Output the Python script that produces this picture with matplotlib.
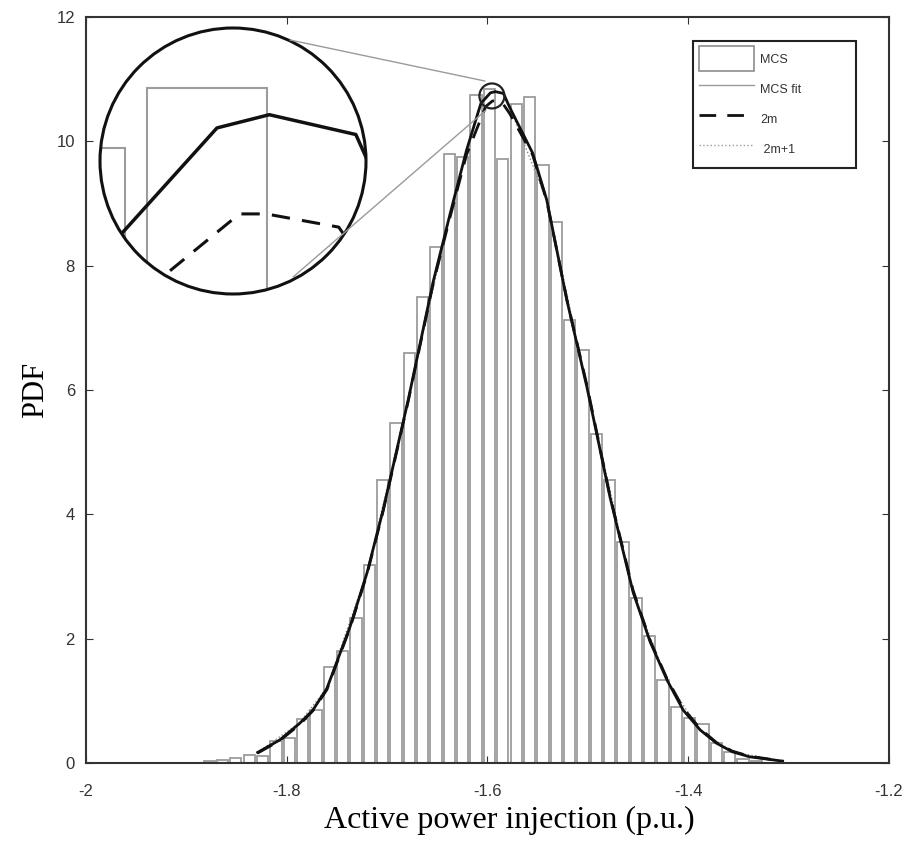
import matplotlib
matplotlib.use('Agg')
import matplotlib.pyplot as plt
from matplotlib.patches import Circle, Ellipse, ConnectionPatch, Patch
from matplotlib.lines import Line2D
import numpy as np

plt.rcParams['axes.unicode_minus'] = False

# MCS histogram (42 bins)
bin_start = -1.8850
bin_width = 0.0133
mcs_pdf = [0.03, 0.05, 0.08, 0.13, 0.12, 0.35, 0.40, 0.70, 0.85, 1.55,
           1.80, 2.33, 3.18, 4.55, 5.47, 6.60, 7.50, 8.30, 9.80, 9.75,
           10.75, 10.84, 9.72, 10.60, 10.72, 9.62, 8.70, 7.12, 6.65, 5.30,
           4.55, 3.55, 2.65, 2.04, 1.33, 0.90, 0.72, 0.62, 0.32, 0.18,
           0.06, 0.04]

# MCS fit curve
x_fit = [-1.829, -1.807, -1.787, -1.774, -1.760, -1.737, -1.720, -1.704,
         -1.679, -1.654, -1.637, -1.621, -1.6066, -1.5971, -1.5922, -1.5841,
         -1.578, -1.555, -1.541, -1.521, -1.501, -1.478, -1.455, -1.438,
         -1.421, -1.405, -1.388, -1.372, -1.356, -1.339, -1.306]
y_fit = [0.17, 0.37, 0.64, 0.85, 1.20, 2.19, 3.06, 4.07,
         5.84, 7.75, 8.85, 9.85, 10.61, 10.78, 10.80, 10.77,
         10.55, 9.81, 9.06, 7.45, 6.05, 4.28, 2.75, 1.95,
         1.33, 0.85, 0.53, 0.32, 0.18, 0.10, 0.03]

# 2m approximation
x_2m = [-1.829, -1.807, -1.787, -1.774, -1.760, -1.737, -1.720, -1.704,
        -1.679, -1.654, -1.637, -1.621, -1.6018, -1.5950, -1.5925, -1.5857,
        -1.578, -1.555, -1.541, -1.521, -1.501, -1.478, -1.455, -1.438,
        -1.421, -1.405, -1.388, -1.372, -1.356, -1.339, -1.306]
y_2m = [0.16, 0.36, 0.62, 0.84, 1.18, 2.17, 3.04, 4.05,
        5.82, 7.72, 8.80, 9.78, 10.56, 10.65, 10.65, 10.63,
        10.45, 9.78, 9.04, 7.46, 6.08, 4.30, 2.78, 1.97,
        1.35, 0.88, 0.55, 0.33, 0.19, 0.11, 0.03]

# 2m+1 approximation (lies on the fit almost everywhere)
x_2m1 = [-1.829, -1.787, -1.760, -1.720, -1.679, -1.637, -1.621, -1.6066,
         -1.5971, -1.5922, -1.5841, -1.578, -1.541, -1.501, -1.455, -1.421,
         -1.388, -1.356, -1.306]
y_2m1 = [0.17, 0.65, 1.21, 3.07, 5.85, 8.86, 9.85, 10.61,
         10.78, 10.80, 10.77, 10.55, 9.05, 6.04, 2.74, 1.32,
         0.52, 0.18, 0.03]

bin_left = bin_start + bin_width * np.arange(len(mcs_pdf))
gap = 0.155 * bin_width

fig = plt.figure(figsize=(9.2, 8.5), dpi=100)
ax = fig.add_axes([86 / 920, 1 - 763 / 850, 803 / 920, 746 / 850])


def draw(a, lw_fit, lw_2m, lw_bar):
    a.bar(bin_left + gap, mcs_pdf, width=bin_width - gap, align='edge',
          facecolor='white', edgecolor='#9c9c9c', linewidth=lw_bar)
    a.plot(x_2m1, y_2m1, color='#888888', ls=':', lw=1)
    a.plot(x_fit, y_fit, color='#111111', lw=lw_fit)
    a.plot(x_2m, y_2m, color='#111111', ls=(0, (6, 4)), lw=lw_2m)


draw(ax, 2.0, 2.0, 1.3)
ax.set_xlim(-2, -1.2)
ax.set_ylim(0, 12)
ax.set_xticks([-2, -1.8, -1.6, -1.4, -1.2])
ax.set_xticklabels(['-2', '-1.8', '-1.6', '-1.4', '-1.2'])
ax.set_yticks([0, 2, 4, 6, 8, 10, 12])
for s in ax.spines.values():
    s.set_linewidth(1.5)
    s.set_color('#333333')
ax.tick_params(direction='in', length=5, top=True, right=True,
               labelsize=12, labelcolor='#333333', color='#333333')
ax.tick_params(axis='x', pad=15)
ax.tick_params(axis='y', pad=8)
for lab in ax.get_xticklabels() + ax.get_yticklabels():
    lab.set_fontfamily('Liberation Sans')
ax.set_xlabel('Active power injection (p.u.)', fontfamily='Liberation Serif',
              fontsize=23)
ax.set_ylabel('PDF', fontfamily='Liberation Serif', fontsize=22)
ax.xaxis.set_label_coords(0.527, -0.058, transform=ax.transAxes)
ax.yaxis.set_label_coords(-0.045, 0.5, transform=ax.transAxes)

# legend
handles = [Patch(facecolor='white', edgecolor='#8c8c8c', linewidth=1.2),
           Line2D([], [], color='#9a9a9a', lw=1),
           Line2D([], [], color='#111111', ls=(0, (6, 4)), lw=2),
           Line2D([], [], color='#9a9a9a', ls=':', lw=1)]
leg = ax.legend(handles, ['MCS', 'MCS fit', '2m', ' 2m+1'],
                loc='upper left', bbox_to_anchor=(0.756, 0.802, 0.203, 0.166),
                mode='expand', fancybox=False, framealpha=1,
                borderaxespad=0,
                prop={'family': 'Liberation Sans', 'size': 9},
                handlelength=4.4, handleheight=2.7, handletextpad=0.5,
                labelspacing=0.42, borderpad=0.44)
leg.get_frame().set_edgecolor('#222222')
leg.get_frame().set_linewidth(1.5)
for t in leg.get_texts():
    t.set_color('#333333')

# zoom window around the peak
cx, cy = -1.5956, 10.73
dx, dy = 0.01245, 0.2011
ax.add_patch(Ellipse((cx, cy), 2 * dx, 2 * dy, fill=False,
                     edgecolor='#222222', linewidth=1.6, zorder=6))

ax_in = fig.add_axes([100 / 920, 1 - 294 / 850, 266 / 920, 266 / 850])
ax_in.set_xlim(cx - dx, cx + dx)
ax_in.set_ylim(cy - dy, cy + dy)
ax_in.axis('off')
bg = Circle((0.5, 0.5), 0.5, transform=ax_in.transAxes,
            facecolor='white', edgecolor='none', zorder=0)
ax_in.add_patch(bg)
draw(ax_in, 2.5, 2.2, 1.5)
for art in ax_in.patches[1:] + ax_in.lines:
    art.set_clip_path(bg)
ax_in.add_patch(Circle((0.5, 0.5), 0.5, transform=ax_in.transAxes,
                       fill=False, edgecolor='#111111', linewidth=2.2,
                       zorder=10, clip_on=False))

for xa, ya, xb, yb in [(0.714, 0.955, -1.6026, 10.97),
                       (0.726, 0.064, -1.6016, 10.50)]:
    con = ConnectionPatch(xyA=(xa, ya), coordsA=ax_in.transAxes,
                          xyB=(xb, yb), coordsB=ax.transData,
                          color='#9a9a9a', linewidth=1, zorder=12)
    fig.add_artist(con)

fig.savefig('out.png', dpi=100)
